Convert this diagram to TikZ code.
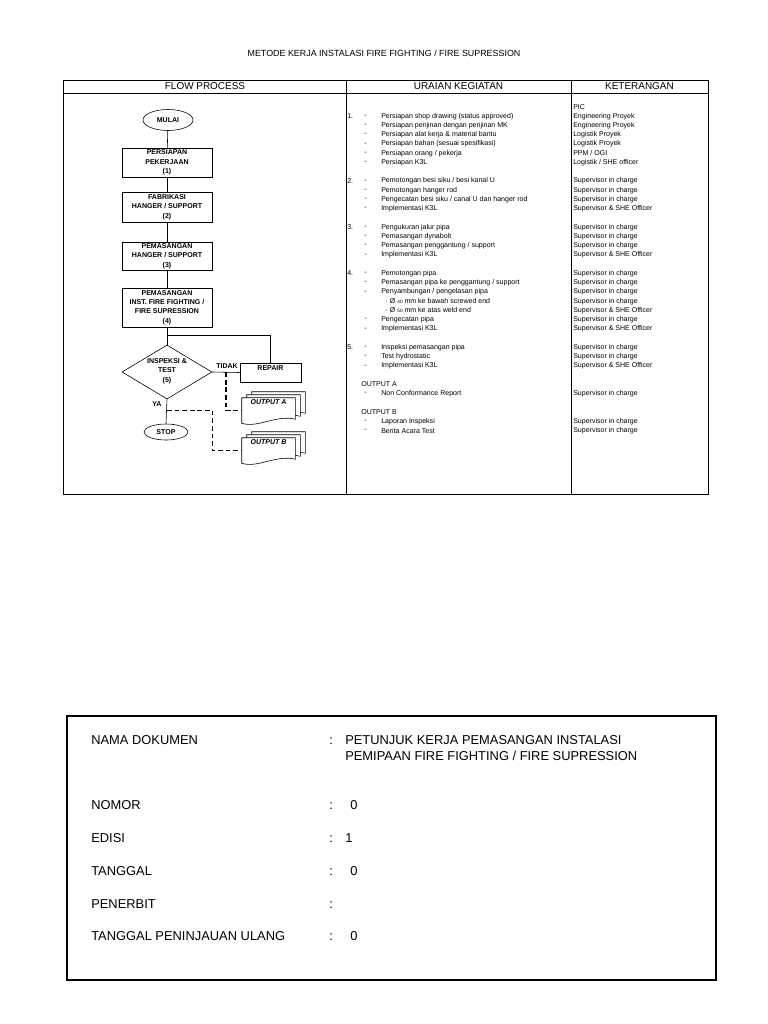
\documentclass[tikz,border=0pt]{standalone}
\usepackage{fontspec}
\setmainfont{Liberation Sans}
\usetikzlibrary{shapes.geometric,calc}

\newcommand{\flowfont}{\fontsize{6}{8}\selectfont\bfseries}
\newcommand{\listfont}{\fontsize{6}{7}\selectfont}

% one line of the activity list: row, number, text
\newcommand{\kegiatan}[3]{%
  \node[listtext] (n#1) at (347,{107+9.25*#1}) {#2};
  \node[listtext] (d#1) at (364,{107+9.25*#1}) {-};
  \node[listtext] (u#1) at (381,{107+9.25*#1}) {#3};}
\newcommand{\ket}[2]{\node[listtext] (k#1) at (573,{107+9.25*#1}) {#2};}

% one sheet of a document stack, shifted by (#2,#3)
\newcommand{\docpage}[3]{%
  \draw[fill=white] ($(#1.north west)+(#2,#3)$) -- ($(#1.north east)+(#2,#3)$)
    -- ($(#1.south east)+(#2,#3-4)$)
    .. controls ($(#1.south)+(#2+8,#3-9)$) and ($(#1.south)+(#2-10,#3+5)$) .. ($(#1.south west)+(#2,#3)$) -- cycle;}

\begin{document}
\begin{tikzpicture}[x=0.03cm, y=-0.03cm, line width=0.5pt,
    listtext/.style={anchor=west, inner sep=0pt, font=\listfont},
    headtext/.style={font=\fontsize{8.5}{10}\selectfont},
    terminal/.style={ellipse, draw, inner sep=0pt, font=\flowfont},
    procbox/.style={draw, minimum width=2.7cm, inner sep=0pt, align=center, font=\flowfont},
    decision/.style={diamond, draw, aspect=1.67, minimum width=2.7cm, minimum height=1.62cm,
      inner sep=0pt, align=center, font=\flowfont},
    flowlabel/.style={inner sep=0pt, font=\flowfont},
    docnode/.style={minimum width=1.59cm, minimum height=0.75cm, inner sep=0pt},
    doclabel/.style={anchor=north, inner sep=0pt, font=\fontsize{6}{8}\selectfont\bfseries\itshape},
    dashline/.style={line width=1.3pt, dash pattern=on 4pt off 2.5pt},
    infotext/.style={anchor=west, inner sep=0pt, text height=7.9pt, text depth=0pt,
      font=\fontsize{11}{13.7}\selectfont},
    infovalue/.style={anchor=west, inner sep=0pt, align=left, font=\fontsize{11}{13.7}\selectfont}]

    \fill[white] (0,0) rectangle (768,1024);
    \useasboundingbox (0,0) rectangle (768,1024);

    % title and table
    \node[font=\fontsize{7.6}{9}\selectfont] (title) at (384,53) {METODE KERJA INSTALASI FIRE FIGHTING / FIRE SUPRESSION};
    \draw[line width=0.7pt] (63,80) rectangle (708,494);
    \draw[line width=0.7pt] (63,93) -- (708,93);
    \draw[line width=0.7pt] (346,80) -- (346,494);
    \draw[line width=0.7pt] (571,80) -- (571,494);
    \node[headtext] (hflow) at (205,86.5) {FLOW PROCESS};
    \node[headtext] (hurai) at (458.5,86.5) {URAIAN KEGIATAN};
    \node[headtext] (hket) at (639.5,86.5) {KETERANGAN};

    % flow process
    \node[terminal, minimum width=1.5cm, minimum height=0.63cm] (mulai) at (168,120) {MULAI};
    \node[procbox, minimum height=0.87cm] (p1) at (167,162.5) {PERSIAPAN\\PEKERJAAN\\(1)};
    \node[procbox, minimum height=0.9cm] (p2) at (167,207) {FABRIKASI\\HANGER / SUPPORT\\(2)};
    \node[procbox, minimum height=0.84cm] (p3) at (167,256) {PEMASANGAN\\HANGER / SUPPORT\\(3)};
    \node[procbox, minimum height=1.17cm] (p4) at (167,307.5) {PEMASANGAN\\INST. FIRE FIGHTING /\\FIRE SUPRESSION\\(4)};
    \node[decision, text depth=3pt] (insp) at (167,372) {INSPEKSI \&\\TEST\\(5)};
    \node[procbox, minimum width=1.83cm, minimum height=0.57cm, text depth=8pt] (repair) at (270.5,372.5) {REPAIR};
    \node[terminal, minimum width=1.32cm, minimum height=0.48cm] (stop) at (166,432) {STOP};
    \node[flowlabel] (tidak) at (227,366) {TIDAK};
    \node[flowlabel] (ya) at (157,404) {YA};

    % output documents
    \node[docnode] (outA) at (268.5,410.5) {};
    \docpage{outA}{10}{-6}
    \docpage{outA}{5}{-3}
    \docpage{outA}{0}{0}
    \node[doclabel] (labA) at ($(outA.north)+(0,2)$) {OUTPUT A};
    \node[docnode] (outB) at (268.5,450.5) {};
    \docpage{outB}{10}{-6}
    \docpage{outB}{5}{-3}
    \docpage{outB}{0}{0}
    \node[doclabel] (labB) at ($(outB.north)+(0,2)$) {OUTPUT B};

    % connectors
    \draw (mulai) -- (p1);
    \draw (p1) -- (p2);
    \draw (p2) -- (p3);
    \draw (p3) -- (p4);
    \draw (p4) -- (insp);
    \coordinate (split) at ($(p4.south)+(0,8)$);
    \draw (split) -| (repair.north);
    \draw (insp.east) -- (repair.west);
    \draw (insp.south) -- (stop.north);
    \coordinate (tdk) at ($(insp.east)!0.5!(repair.west)$);
    \draw[dashline] (tdk) |- (outA.west);
    \coordinate (yb) at ($(insp.south)+(0,11)$);
    \coordinate (yc) at (insp.east |- yb);
    \draw[dashline] (yb) -- (yc) |- (outB.west);

    % uraian kegiatan
    \kegiatan{1}{1.}{Persiapan shop drawing (status approved)}
    \kegiatan{2}{}{Persiapan perijinan dengan perijinan MK}
    \kegiatan{3}{}{Persiapan alat kerja \& material bantu}
    \kegiatan{4}{}{Persiapan bahan (sesuai spesifikasi)}
    \kegiatan{5}{}{Persiapan orang / pekerja}
    \kegiatan{6}{}{Persiapan K3L}
    \kegiatan{8}{2.}{Pemotongan besi siku / besi kanal U}
    \kegiatan{9}{}{Pemotongan hanger rod}
    \kegiatan{10}{}{Pengecatan besi siku / canal U dan hanger rod}
    \kegiatan{11}{}{Implementasi K3L}
    \kegiatan{13}{3.}{Pengukuran jalur pipa}
    \kegiatan{14}{}{Pemasangan dynabolt}
    \kegiatan{15}{}{Pemasangan penggantung / support}
    \kegiatan{16}{}{Implementasi K3L}
    \kegiatan{18}{4.}{Pemotongan pipa}
    \kegiatan{19}{}{Pemasangan pipa ke penggantung / support}
    \kegiatan{20}{}{Penyambungan / pengelasan pipa}
    \node[listtext] (u21) at (385,301.25) {·\hspace{2pt}Ø {\fontsize{4}{4}\selectfont 40} mm ke bawah screwed end};
    \node[listtext] (u22) at (385,310.5) {·\hspace{2pt}Ø {\fontsize{4}{4}\selectfont 50} mm ke atas weld end};
    \kegiatan{23}{}{Pengecatan pipa}
    \kegiatan{24}{}{Implementasi K3L}
    \kegiatan{26}{5.}{Inspeksi pemasangan pipa}
    \kegiatan{27}{}{Test hydrostatic}
    \kegiatan{28}{}{Implementasi K3L}
    \node[listtext] (o30) at (361,384.5) {OUTPUT A};
    \kegiatan{31}{}{Non Conformance Report}
    \node[listtext] (o33) at (361,412.25) {OUTPUT B};
    \kegiatan{34}{}{Laporan Inspeksi}
    \kegiatan{35}{}{Berita Acara Test}

    % keterangan
    \ket{0}{PIC}
    \ket{1}{Engineering Proyek}
    \ket{2}{Engineering Proyek}
    \ket{3}{Logistik Proyek}
    \ket{4}{Logistik Proyek}
    \ket{5}{PPM / OGI}
    \ket{6}{Logistik / SHE officer}
    \foreach \r in {8,9,10,13,14,15,18,19,20,21,23,26,27,31,34,35}
      {\ket{\r}{Supervisor in charge}}
    \foreach \r in {11,16,22,24,28}
      {\ket{\r}{Supervisor \& SHE Officer}}

    % document info box
    \draw[line width=1.1pt] (67,716) rectangle (716,980);
    \node[infotext] (l1) at (91,740) {NAMA DOKUMEN};
    \node[infotext] (c1) at (329,740) {:};
    \node[infovalue] (v1) at (345,748) {PETUNJUK KERJA PEMASANGAN INSTALASI\\PEMIPAAN FIRE FIGHTING / FIRE SUPRESSION};
    \node[infotext] (l2) at (91,805) {NOMOR};
    \node[infotext] (c2) at (329,805) {:};
    \node[infotext] (v2) at (350,805) {0};
    \node[infotext] (l3) at (91,838) {EDISI};
    \node[infotext] (c3) at (329,838) {:};
    \node[infotext] (v3) at (345,838) {1};
    \node[infotext] (l4) at (91,871) {TANGGAL};
    \node[infotext] (c4) at (329,871) {:};
    \node[infotext] (v4) at (350,871) {0};
    \node[infotext] (l5) at (91,904) {PENERBIT};
    \node[infotext] (c5) at (329,904) {:};
    \node[infotext] (l6) at (91,936) {TANGGAL PENINJAUAN ULANG};
    \node[infotext] (c6) at (329,936) {:};
    \node[infotext] (v6) at (350,936) {0};
\end{tikzpicture}
\end{document}
